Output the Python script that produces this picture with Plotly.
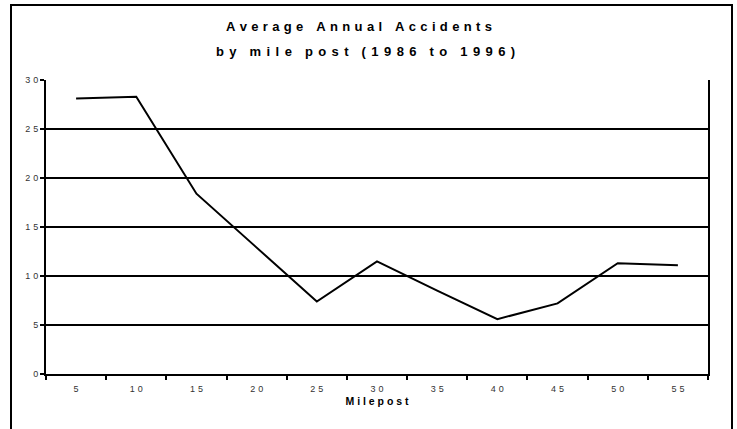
import plotly.graph_objects as go

mileposts = [5, 10, 15, 20, 25, 30, 35, 40, 45, 50, 55]
accidents = [28.1, 28.3, 18.4, 12.9, 7.4, 11.5, 8.5, 5.6, 7.2, 11.3, 11.1]
y_ticks = [0, 5, 10, 15, 20, 25, 30]

title_1 = "Average Annual Accidents"
title_2 = "by mile post (1986 to 1996)"
x_title = "Milepost"

SEP = "\u2004"


def spaced(s, sep=SEP, word_sep=None):
    if word_sep is None:
        word_sep = sep * 3
    words = s.split(" ")
    return word_sep.join(sep.join(w) for w in words)


cats = [str(m) for m in mileposts]

fig = go.Figure()
fig.add_trace(go.Scatter(
    x=cats, y=accidents, mode="lines",
    line=dict(color="black", width=2),
    hoverinfo="skip",
))

W, H = 737, 429
L, R, T, B = 46, 29, 80, 55
pw, ph = W - L - R, H - T - B


def px_x(x):
    return (x - L) / pw


def px_y(y):
    return (H - B - y) / ph


font_family = "Liberation Sans, Arial, sans-serif"
TICK_SEP = "\u2004"

fig.update_layout(
    width=W, height=H,
    margin=dict(l=L, r=R, t=T, b=B),
    paper_bgcolor="white", plot_bgcolor="white",
    showlegend=False,
    font=dict(family=font_family, color="black"),
    xaxis=dict(
        type="category", range=[-0.5, len(cats) - 0.5],
        tickmode="array", tickvals=cats, ticktext=[spaced(c, TICK_SEP) for c in cats],
        tickson="boundaries", ticks="outside", ticklen=4, tickwidth=2, tickcolor="black",
        ticklabelstandoff=5,
        showline=True, linecolor="black", linewidth=2, mirror=False,
        showgrid=False, zeroline=False,
        tickfont=dict(size=9, color="#333"),
        title=dict(text="<b>" + spaced(x_title, " ") + "</b>", font=dict(size=10.5), standoff=5),
    ),
    yaxis=dict(
        range=[0, 30], tickmode="array", tickvals=y_ticks,
        ticktext=[spaced(str(v), TICK_SEP) for v in y_ticks],
        ticks="outside", ticklen=4, tickwidth=2, tickcolor="black",
        showline=True, linecolor="black", linewidth=2, mirror=True,
        showgrid=True, gridcolor="black", gridwidth=2, zeroline=False,
        tickfont=dict(size=9, color="#333"),
    ),
    annotations=[
        dict(text="<b>" + spaced(title_1) + "</b>", xref="paper", yref="paper",
             x=px_x(359), y=px_y(27), xanchor="center", yanchor="middle",
             showarrow=False, font=dict(size=13)),
        dict(text="<b>" + spaced(title_2, "\u2004\u200a", "\u2004" * 3) + "</b>",
             xref="paper", yref="paper",
             x=px_x(365), y=px_y(52), xanchor="center", yanchor="middle",
             showarrow=False, font=dict(size=13)),
    ],
    shapes=[
        dict(type="rect", xref="paper", yref="paper",
             x0=px_x(11), x1=px_x(732), y0=px_y(445), y1=px_y(5),
             line=dict(color="black", width=2), fillcolor="rgba(0,0,0,0)", layer="above"),
    ],
)

fig.write_html(
    "out.html",
    config={"displayModeBar": False},
    post_script="document.body.style.margin='0';document.body.style.overflow='hidden';",
)
